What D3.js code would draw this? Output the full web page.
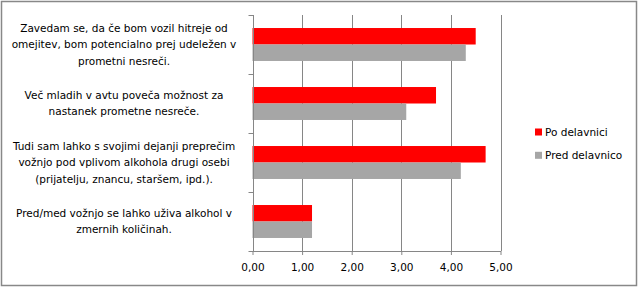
<!DOCTYPE html>
<html><head><meta charset="utf-8">
<script src="https://cdn.jsdelivr.net/npm/d3@7"></script>
<style>body{margin:0;background:#fff}svg{display:block}</style>
</head><body>
<script>
const categories = [
  ["Zavedam se, da če bom vozil hitreje od","omejitev, bom potencialno prej udeležen v","prometni nesreči."],
  ["Več mladih v avtu poveča možnost za","nastanek prometne nesreče."],
  ["Tudi sam lahko s svojimi dejanji preprečim","vožnjo pod vplivom alkohola drugi osebi","(prijatelju, znancu, staršem, ipd.)."],
  ["Pred/med vožnjo se lahko uživa alkohol v","zmernih količinah."]
];
const seriesNames = ["Po delavnici","Pred delavnico"];
const poValues = [4.5, 3.7, 4.7, 1.2];
const predValues = [4.3, 3.1, 4.2, 1.2];
const xTicks = [0,1,2,3,4,5];
const colors = ["#ff0000","#a6a6a6"];

const W=639,H=289;
const svg=d3.select("body").append("svg").attr("width",W).attr("height",H);
svg.append("rect").attr("x",1.5).attr("y",1.5).attr("width",W-4).attr("height",H-5)
  .attr("fill","#fff").attr("stroke","#888").attr("stroke-width",1.5);

const font="'DejaVu Sans', Verdana, sans-serif";
const fs=10.5;
const x=d3.scaleLinear().domain([0,5]).range([252.5,500.5]);
const y=d3.scaleBand().domain(d3.range(categories.length)).range([15,251]).paddingInner(0).paddingOuter(0);
const inner=d3.scaleBand().domain([0,1]).range([0,y.bandwidth()]).paddingInner(0).paddingOuter(0.79);

// gridlines
svg.append("g").selectAll("line").data(xTicks.slice(1)).join("line")
  .attr("x1",d=>Math.round(x(d))+0.5).attr("x2",d=>Math.round(x(d))+0.5)
  .attr("y1",15).attr("y2",251).attr("stroke","#868686").attr("stroke-width",1);

// bars
const data=categories.map((c,i)=>[poValues[i],predValues[i]]);
const g=svg.append("g");
data.forEach((vals,i)=>{
  vals.forEach((v,j)=>{
    g.append("rect").attr("x",x(0)).attr("y",y(i)+inner(j))
      .attr("width",x(v)-x(0)).attr("height",inner.bandwidth()).attr("fill",colors[j]);
  });
});

// x axis
const xa=svg.append("g").attr("transform","translate(0,251)")
  .call(d3.axisBottom(x).tickValues(xTicks).tickSize(4).tickFormat(d=>d3.format(".2f")(d).replace(".",",")));
xa.select(".domain").attr("stroke","#868686").attr("d","M"+(x(0))+",0.5H"+(x(5)+0.5));
xa.selectAll(".tick line").attr("stroke","#868686");
xa.selectAll("text").attr("font-family",font).attr("font-size",fs).attr("fill","#000").attr("dy","1.25em");

// y axis
const ya=svg.append("g").attr("transform","translate("+(Math.round(x(0))+0.5)+",0)");
ya.append("line").attr("y1",15).attr("y2",251).attr("stroke","#868686");
ya.selectAll(".t").data(d3.range(categories.length+1)).join("line")
  .attr("x1",-5).attr("x2",0).attr("y1",d=>Math.round(15+d*y.step())+0.5).attr("y2",d=>Math.round(15+d*y.step())+0.5)
  .attr("stroke","#868686");

// category labels
categories.forEach((lines,i)=>{
  const cy=y(i)+y.bandwidth()/2;
  const lh=16.5;
  const t=svg.append("text").attr("font-family",font).attr("font-size",fs).attr("fill","#000")
    .attr("text-anchor","middle");
  lines.forEach((l,k)=>{
    t.append("tspan").attr("x",124).attr("y",cy+(k-(lines.length-1)/2)*lh).attr("dy","0.35em").text(l);
  });
});

// legend
const lg=svg.append("g");
seriesNames.forEach((n,j)=>{
  const ly=132+j*23.3;
  lg.append("rect").attr("x",535).attr("y",ly-3.5).attr("width",7).attr("height",7).attr("fill",colors[j]);
  lg.append("text").attr("x",545).attr("y",ly).attr("dy","0.35em").attr("font-family",font).attr("font-size",fs).text(n);
});
</script>
</body></html>
